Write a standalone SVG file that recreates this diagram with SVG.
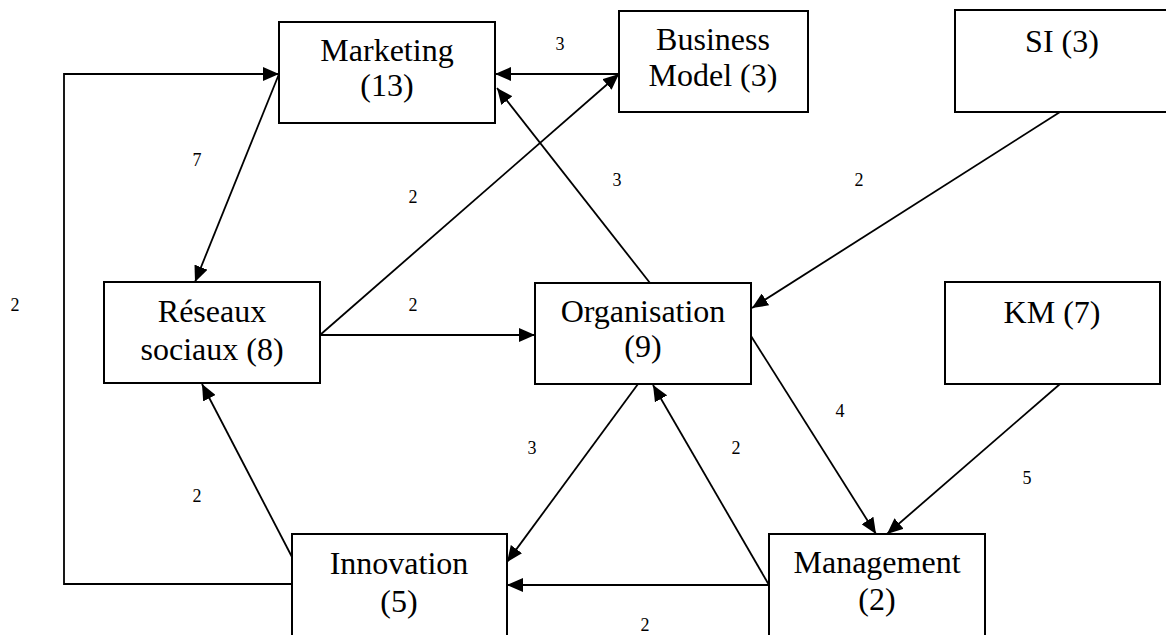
<svg xmlns="http://www.w3.org/2000/svg" width="1166" height="635" viewBox="0 0 1166 635">
  <style>
    .box { fill: #ffffff; stroke: #000000; stroke-width: 2; }
    .name { font-family: "Liberation Serif", "Times New Roman", serif; font-size: 32px; fill: #000000; text-anchor: middle; }
    .edge { fill: none; stroke: #000000; stroke-width: 1.8; }
    .weight { font-family: "Liberation Serif", "Times New Roman", serif; font-size: 18px; fill: #000000; text-anchor: middle; }
  </style>
  <defs>
    <marker id="arrow" viewBox="0 0 16 14" refX="16" refY="7" markerWidth="16" markerHeight="14" markerUnits="userSpaceOnUse" orient="auto">
      <path d="M0,0 L16,7 L0,14 Z" fill="#000000"/>
    </marker>
  </defs>
  <rect width="1166" height="635" fill="#ffffff"/>

  <!-- connectors -->
  <g id="connectors">
    <polyline class="edge" points="292,584 64,584 64,74 279,74" marker-end="url(#arrow)"/>
    <line class="edge" x1="279" y1="74" x2="195" y2="282" marker-end="url(#arrow)"/>
    <line class="edge" x1="619" y1="74" x2="495" y2="74" marker-end="url(#arrow)"/>
    <line class="edge" x1="320" y1="335" x2="619" y2="74" marker-end="url(#arrow)"/>
    <line class="edge" x1="320" y1="335" x2="535" y2="335" marker-end="url(#arrow)"/>
    <line class="edge" x1="650" y1="283" x2="497" y2="88" marker-end="url(#arrow)"/>
    <line class="edge" x1="1060" y1="112" x2="752" y2="308" marker-end="url(#arrow)"/>
    <line class="edge" x1="751" y1="336" x2="876" y2="534" marker-end="url(#arrow)"/>
    <line class="edge" x1="1060" y1="384" x2="887" y2="534" marker-end="url(#arrow)"/>
    <line class="edge" x1="638" y1="384" x2="507" y2="562" marker-end="url(#arrow)"/>
    <line class="edge" x1="769" y1="585" x2="653" y2="385" marker-end="url(#arrow)"/>
    <line class="edge" x1="769" y1="585" x2="507" y2="585" marker-end="url(#arrow)"/>
    <line class="edge" x1="292" y1="557" x2="202" y2="384" marker-end="url(#arrow)"/>
  </g>

  <!-- edge weights -->
  <g id="weights">
    <text class="weight" x="560" y="50">3</text>
    <text class="weight" x="197" y="166">7</text>
    <text class="weight" x="413" y="203">2</text>
    <text class="weight" x="617" y="186">3</text>
    <text class="weight" x="859" y="186">2</text>
    <text class="weight" x="15" y="311">2</text>
    <text class="weight" x="413" y="311">2</text>
    <text class="weight" x="840" y="417">4</text>
    <text class="weight" x="532" y="454">3</text>
    <text class="weight" x="736" y="454">2</text>
    <text class="weight" x="197" y="502">2</text>
    <text class="weight" x="1027" y="484">5</text>
    <text class="weight" x="645" y="631">2</text>
  </g>

  <!-- nodes -->
  <g id="node-marketing">
    <rect class="box" x="279" y="22" width="216" height="101"/>
    <text class="name" x="387" y="61">Marketing</text>
    <text class="name" x="387" y="96">(13)</text>
  </g>
  <g id="node-business-model">
    <rect class="box" x="619" y="11" width="189" height="101"/>
    <text class="name" x="713" y="50">Business</text>
    <text class="name" x="713" y="86">Model (3)</text>
  </g>
  <g id="node-si">
    <rect class="box" x="955" y="10" width="216" height="102"/>
    <text class="name" x="1062" y="52">SI (3)</text>
  </g>
  <g id="node-reseaux-sociaux">
    <rect class="box" x="104" y="282" width="216" height="101"/>
    <text class="name" x="212" y="322">Réseaux</text>
    <text class="name" x="212" y="360">sociaux (8)</text>
  </g>
  <g id="node-organisation">
    <rect class="box" x="535" y="283" width="216" height="101"/>
    <text class="name" x="643" y="322">Organisation</text>
    <text class="name" x="643" y="357">(9)</text>
  </g>
  <g id="node-km">
    <rect class="box" x="945" y="282" width="215" height="102"/>
    <text class="name" x="1052" y="323">KM (7)</text>
  </g>
  <g id="node-innovation">
    <rect class="box" x="292" y="534" width="215" height="104"/>
    <text class="name" x="399" y="574">Innovation</text>
    <text class="name" x="399" y="612">(5)</text>
  </g>
  <g id="node-management">
    <rect class="box" x="769" y="534" width="216" height="104"/>
    <text class="name" x="877" y="573">Management</text>
    <text class="name" x="877" y="610">(2)</text>
  </g>
</svg>
